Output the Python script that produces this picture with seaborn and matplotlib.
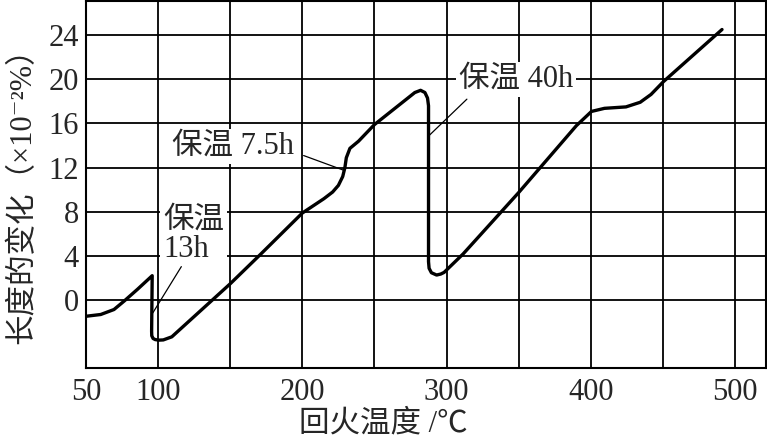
import matplotlib
matplotlib.use("Agg")
import matplotlib.pyplot as plt
import pandas as pd
import seaborn as sns

# curve: tempering temperature (C) vs length change (x1e-2 %)
temp = [50, 60.2, 69.4, 76.5, 85.7, 95.9, 95.5, 95.6, 96.5, 98.0, 100.5, 103.6, 109.5,
        150, 171.3, 200, 215, 221, 225, 228, 229.5, 230.5, 233, 239, 250,
        278, 282, 285, 286.8, 287.5, 287.5, 287.9, 289.5, 293.1, 296, 298.3, 311.5,
        350, 390, 400.5, 409.5, 424.4, 434.3, 441.8, 450.5, 491]
change = [-1.44, -1.28, -0.83, -0.06, 1.0, 2.23, -2.8, -3.2, -3.45, -3.55, -3.6, -3.58, -3.3,
          1.5, 4.2, 7.9, 9.2, 9.8, 10.4, 11.2, 12.0, 12.9, 13.75, 14.4, 15.9,
          18.8, 19.0, 18.8, 18.3, 17.6, 3.5, 2.9, 2.5, 2.29, 2.38, 2.53, 4.2,
          9.75, 15.8, 17.09, 17.37, 17.5, 17.92, 18.63, 19.8, 24.5]

x_ticks = [50, 100, 200, 300, 400, 500]
x_grid = [150, 250, 350, 450]
y_ticks = [0, 4, 8, 12, 16, 20, 24]

# annotations: label, text position, alignment, leader start, leader end
notes = ["保温\n13h", "保温 7.5h", "保温 40h"]
note_xy = [(103.5, 5.9), (152.2, 13.94), (348, 20.0)]
note_ha = ["left", "center", "center"]
lead_from = [(116.1, 3.05), (200.9, 13.1), (314.1, 18.2)]
lead_to = [(96.3, -1.14), (229.1, 11.75), (287.5, 14.86)]

df = pd.DataFrame({"temp": temp, "change": change})

sns.set_style("ticks")
plt.rcParams["font.family"] = ["Liberation Serif", "Noto Sans CJK SC", "DejaVu Serif"]

fig, ax = plt.subplots(figsize=(7.67, 4.40), dpi=100)
fig.subplots_adjust(left=86/767, right=766/767, top=439/440, bottom=72/440)

sns.lineplot(data=df, x="temp", y="change", sort=False, estimator=None,
             color="black", lw=2.4, ax=ax)

ax.set_xlim(50, 521.5)
ax.set_ylim(-6.12, 27.08)
ax.set_xticks(x_ticks)
ax.set_xticks(x_grid, minor=True)
ax.set_yticks(y_ticks)
ax.grid(which="both", color="black", lw=1.3)
ax.tick_params(which="both", length=0, labelsize=22)
ax.tick_params(axis="x", pad=7)
ax.tick_params(axis="y", pad=5)
for s in ax.spines.values():
    s.set_color("black")
    s.set_linewidth(1.5)

ax.set_xlabel("回火温度 /℃", fontsize=22)
ax.set_ylabel("长度的变化（×10⁻²%）", fontsize=22)
ax.xaxis.set_label_coords(0.437, -0.114)
ax.yaxis.set_label_coords(-0.072, 0.49)

for txt, (tx, ty), ha, p0, p1 in zip(notes, note_xy, note_ha, lead_from, lead_to):
    ax.text(tx, ty, txt, ha=ha, va="center", fontsize=22, linespacing=1.0,
            bbox=dict(facecolor="white", edgecolor="none", pad=2), zorder=4)
    ax.annotate("", xy=p1, xytext=p0,
                arrowprops=dict(arrowstyle="-", color="black", lw=0.9,
                                shrinkA=0, shrinkB=0), zorder=5)

plt.savefig("out.png", dpi=100)
